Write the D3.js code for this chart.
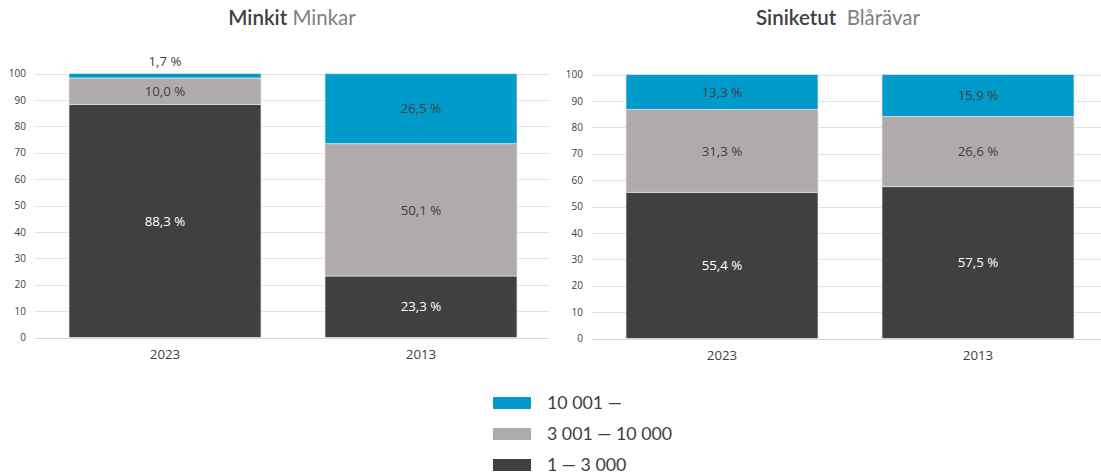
<!DOCTYPE html>
<html><head><meta charset="utf-8">
<script src="https://cdn.jsdelivr.net/npm/d3@7"></script>
<style>body{margin:0;background:#fff}svg{display:block}</style>
</head><body>
<svg id="c" width="1101" height="474"></svg>
<script>
const categories = ["2023", "2013"];
const seriesNames = ["1 — 3 000", "3 001 — 10 000", "10 001 —"];
const legendOrder = ["10 001 —", "3 001 — 10 000", "1 — 3 000"];
const colors = ["#404040", "#AFABAA", "#009BCB"];
const minkSmall = [88.3, 23.3];
const minkMid = [10.0, 50.1];
const minkLarge = [1.7, 26.5];
const foxSmall = [55.4, 57.5];
const foxMid = [31.3, 26.6];
const foxLarge = [13.3, 15.9];
const yTicks = [0, 10, 20, 30, 40, 50, 60, 70, 80, 90, 100];
const titles = [["Minkit", "Minkar"], ["Siniketut", "Blårävar"]];

const svg = d3.select("#c");
const fmt = v => d3.format(".1f")(v).replace(".", ",") + " %";

function drawChart(cfg) {
  const g = svg.append("g");
  const x = d3.scaleBand().domain(categories).range(cfg.xr).paddingInner(0.25).paddingOuter(0.125);
  const y = d3.scaleLinear().domain([0, 100]).range(cfg.yr);
  g.selectAll("line.grid").data(yTicks).join("line")
    .attr("x1", cfg.gx[0]).attr("x2", cfg.gx[1])
    .attr("y1", d => Math.round(y(d)) + 0.5).attr("y2", d => Math.round(y(d)) + 0.5)
    .attr("stroke", d => d === 0 ? "#d9d9d9" : "#e3e3e3").attr("stroke-width", 1);
  const ax = d3.axisLeft(y).tickValues(yTicks).tickSize(0).tickPadding(0);
  const ag = g.append("g").attr("transform", `translate(${cfg.ax},0)`).call(ax);
  ag.select(".domain").remove();
  ag.selectAll("text").attr("font-family", "'Open Sans', sans-serif").attr("font-size", 10).attr("fill", "#404040");
  const rows = categories.map((c, i) => ({cat: c, s0: cfg.data[0][i], s1: cfg.data[1][i], s2: cfg.data[2][i]}));
  const stack = d3.stack().keys(["s0", "s1", "s2"])(rows);
  stack.forEach((layer, li) => {
    g.selectAll(null).data(layer).join("rect")
      .attr("x", d => x(d.data.cat)).attr("width", x.bandwidth())
      .attr("y", d => y(Math.min(d[1], 100))).attr("height", d => y(d[0]) - y(Math.min(d[1], 100)))
      .attr("fill", colors[li]).attr("stroke", "#e8e8e8").attr("stroke-width", 0.7);
    g.selectAll(null).data(layer).join("text")
      .attr("x", d => x(d.data.cat) + x.bandwidth() / 2)
      .attr("y", d => {
        const v = d[1] - d[0];
        return v < 4 ? y(100) - 12 : y((d[0] + d[1]) / 2);
      })
      .attr("dy", "0.35em").attr("text-anchor", "middle")
      .attr("font-family", "'Open Sans', sans-serif").attr("font-size", 13.3)
      .attr("fill", li === 0 ? "#ffffff" : "#404040")
      .text(d => fmt(d[1] - d[0]));
  });
  const xa = d3.axisBottom(x).tickSize(0).tickPadding(0);
  const xg = g.append("g").attr("transform", `translate(0,${cfg.yr[0] + 12})`).call(xa);
  xg.select(".domain").remove();
  xg.selectAll("text").attr("font-family", "'Open Sans', sans-serif").attr("font-size", 13.3).attr("fill", "#404040");
  const t = g.append("text").attr("x", cfg.tx).attr("y", 25).attr("text-anchor", "middle")
    .attr("font-family", "Lato, sans-serif").attr("font-size", 20.5);
  t.append("tspan").attr("font-weight", 600).attr("fill", "#404040").text(cfg.title[0]);
  t.append("tspan").attr("fill", "#808080").attr("xml:space", "preserve").text(cfg.gap + cfg.title[1]);
}

drawChart({xr: [37, 549], gx: [35, 549], yr: [337.5, 73.5], ax: 26, tx: 292,
  data: [minkSmall, minkMid, minkLarge], title: titles[0], gap: " "});
drawChart({xr: [594, 1106], gx: [592, 1101], yr: [338.5, 74.5], ax: 583, tx: 838,
  data: [foxSmall, foxMid, foxLarge], title: titles[1], gap: "\u00a0\u00a0"});

const lg = svg.append("g");
legendOrder.forEach((name, i) => {
  const ci = seriesNames.indexOf(name);
  const yy = 397 + i * 31;
  lg.append("rect").attr("x", 493).attr("y", yy).attr("width", 38).attr("height", 12).attr("fill", colors[ci]);
  lg.append("text").attr("x", 547).attr("y", yy + 6).attr("dy", "0.35em")
    .attr("font-family", "Lato, sans-serif").attr("font-size", 17.8).attr("fill", "#404040").text(name);
});
</script>
</body></html>
